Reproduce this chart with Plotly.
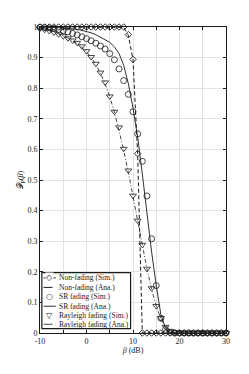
import plotly.graph_objects as go

# ---------------- data ----------------
snr_db = [-10, -9, -8, -7, -6, -5, -4, -3, -2, -1, 0, 1, 2, 3, 4, 5, 6, 7, 8, 9, 10,
          11, 12, 13, 14, 15, 16, 17, 18, 19, 20, 21, 22, 23, 24, 25, 26, 27, 28, 29, 30]

nonfading_sim = [1.0, 1.0, 1.0, 1.0, 1.0, 1.0, 1.0, 1.0, 1.0, 1.0, 1.0, 1.0, 1.0, 1.0, 1.0,
                 1.0, 1.0, 1.0, 1.0, 0.975, 0.894, 0.586, 0.0, 0.0, 0.0, 0.0, 0.0, 0.0, 0.0,
                 0.0, 0.0, 0.0, 0.0, 0.0, 0.0, 0.0, 0.0, 0.0, 0.0, 0.0, 0.0]
nonfading_ana = [1.0, 1.0, 1.0, 1.0, 1.0, 1.0, 1.0, 1.0, 1.0, 1.0, 1.0, 1.0, 1.0, 1.0, 1.0,
                 1.0, 1.0, 1.0, 0.999, 0.973, 0.893, 0.585, 0.0, 0.0, 0.0, 0.0, 0.0, 0.0, 0.0,
                 0.0, 0.0, 0.0, 0.0, 0.0, 0.0, 0.0, 0.0, 0.0, 0.0, 0.0, 0.0]

sr_sim = [0.999, 0.998, 0.997, 0.995, 0.992, 0.988, 0.984, 0.979, 0.974, 0.968, 0.962,
          0.955, 0.947, 0.938, 0.928, 0.913, 0.893, 0.863, 0.825, 0.780, 0.723, 0.651,
          0.561, 0.448, 0.308, 0.155, 0.048, 0.012, 0.002, 0.0, 0.0, 0.0, 0.0, 0.0, 0.0,
          0.0, 0.0, 0.0, 0.0, 0.0, 0.0]
sr_ana = [1.0, 1.0, 0.999, 0.999, 0.998, 0.997, 0.996, 0.994, 0.992, 0.989, 0.986,
          0.981, 0.975, 0.967, 0.960, 0.950, 0.935, 0.913, 0.875, 0.815, 0.735, 0.640,
          0.520, 0.385, 0.265, 0.155, 0.060, 0.015, 0.002, 0.0, 0.0, 0.0, 0.0, 0.0, 0.0,
          0.0, 0.0, 0.0, 0.0, 0.0, 0.0]

rayleigh_sim = [0.995, 0.991, 0.987, 0.982, 0.976, 0.970, 0.963, 0.956, 0.948, 0.937, 0.921,
                0.902, 0.880, 0.851, 0.819, 0.773, 0.723, 0.672, 0.602, 0.531, 0.449, 0.367,
                0.288, 0.210, 0.146, 0.088, 0.049, 0.020, 0.007, 0.002, 0.0, 0.0, 0.0, 0.0,
                0.0, 0.0, 0.0, 0.0, 0.0, 0.0, 0.0]
rayleigh_ana = [0.996, 0.993, 0.989, 0.984, 0.978, 0.971, 0.964, 0.956, 0.946, 0.934, 0.919,
                0.900, 0.877, 0.849, 0.814, 0.772, 0.722, 0.664, 0.598, 0.525, 0.446, 0.365,
                0.285, 0.210, 0.143, 0.088, 0.047, 0.020, 0.006, 0.001, 0.0, 0.0, 0.0, 0.0,
                0.0, 0.0, 0.0, 0.0, 0.0, 0.0, 0.0]

series_names = ["Non-fading (Sim.)", "Non-fading (Ana.)", "SR fading (Sim.)",
                "SR fading (Ana.)", "Rayleigh fading (Sim.)", "Rayleigh fading (Ana.)"]

x_tickvals = [-10, 0, 10, 20, 30]
x_ticktext = ["-10", "0", "10", "20", "30"]
y_tickvals = [0, 0.1, 0.2, 0.3, 0.4, 0.5, 0.6, 0.7, 0.8, 0.9, 1.0]
y_ticktext = ["0", "0.1", "0.2", "0.3", "0.4", "0.5", "0.6", "0.7", "0.8", "0.9", "1"]

# ---------------- styles ----------------
SERIF = "Liberation Serif"
INK = "#1a1a1a"
GRID = "#e2e2e2"
DASH = "4px,2.5px"
DASHDOT = "4px,2px,1px,2px"

fig = go.Figure()

# analytical curves
fig.add_trace(go.Scatter(x=snr_db, y=nonfading_ana, mode="lines", name=series_names[1],
                         line=dict(color=INK, width=1, dash=DASH), showlegend=False))
fig.add_trace(go.Scatter(x=snr_db, y=sr_ana, mode="lines", name=series_names[3],
                         line=dict(color=INK, width=0.9), showlegend=False))
fig.add_trace(go.Scatter(x=snr_db, y=rayleigh_ana, mode="lines", name=series_names[5],
                         line=dict(color=INK, width=0.8, dash=DASHDOT), showlegend=False))

# simulation markers
fig.add_trace(go.Scatter(x=snr_db, y=sr_sim, mode="markers", name=series_names[2],
                         marker=dict(symbol="circle-open", size=6, color=INK,
                                     line=dict(width=0.8, color=INK)),
                         cliponaxis=False, showlegend=False))
fig.add_trace(go.Scatter(x=snr_db, y=rayleigh_sim, mode="markers", name=series_names[4],
                         marker=dict(symbol="triangle-down-open", size=6, color=INK,
                                     line=dict(width=0.8, color=INK)),
                         cliponaxis=False, showlegend=False))
fig.add_trace(go.Scatter(x=snr_db, y=nonfading_sim, mode="markers", name=series_names[0],
                         marker=dict(symbol="diamond-open", size=5, color=INK,
                                     line=dict(width=0.9, color=INK)),
                         cliponaxis=False, showlegend=False))

# ---------------- manual legend (MATLAB style box) ----------------
shapes = []
annotations = []
lx0, lx1 = 0.010, 0.487
ly0, ly1 = 0.014, 0.197
shapes.append(dict(type="rect", xref="paper", yref="paper", x0=lx0, x1=lx1, y0=ly0, y1=ly1,
                   line=dict(color=INK, width=1.2), fillcolor="white", layer="above"))
row_y = [0.180, 0.149, 0.118, 0.0875, 0.0577, 0.0285]
sx0, sx1, sxc, tx = 0.019, 0.085, 0.052, 0.092
line_styles = [dict(width=0.9), dict(width=1, dash="dash"), None,
               dict(width=0.9), None, dict(width=0.8, dash="dashdot")]
glyphs = ["◇", None, "○", None, "▽", None]
for i, name in enumerate(series_names):
    if line_styles[i] is not None:
        ls = dict(color=INK)
        ls.update(line_styles[i])
        shapes.append(dict(type="line", xref="paper", yref="paper", x0=sx0, x1=sx1,
                           y0=row_y[i], y1=row_y[i], line=ls, layer="above"))
    if glyphs[i] is not None:
        annotations.append(dict(xref="paper", yref="paper", x=sxc, y=row_y[i], text=glyphs[i],
                                showarrow=False, xanchor="center", yanchor="middle",
                                font=dict(family="DejaVu Sans", size=8, color=INK),
                                bgcolor="white" if i == 0 else None,
                                borderpad=0))
    annotations.append(dict(xref="paper", yref="paper", x=tx, y=row_y[i], text=name,
                            showarrow=False, xanchor="left", yanchor="middle",
                            font=dict(family=SERIF, size=7.5, color=INK)))

axis_common = dict(showline=True, linecolor=INK, linewidth=1, mirror="ticks",
                   ticks="inside", ticklen=3, tickwidth=1, tickcolor=INK,
                   showgrid=True, gridcolor=GRID, gridwidth=1, zeroline=False,
                   tickfont=dict(family=SERIF, size=8, color=INK))

# page body has an 8px default margin, so the figure is shrunk by 8px to fit the window
fig.update_layout(
    width=241, height=366,
    margin=dict(l=25, r=23, t=19, b=41),
    paper_bgcolor="white", plot_bgcolor="white",
    showlegend=False,
    xaxis=dict(range=[-10, 30], tickvals=x_tickvals, ticktext=x_ticktext,
               minor=dict(tickvals=[-5, 5, 15, 25], ticks="inside", ticklen=3, tickwidth=1,
                          tickcolor=INK, showgrid=True, gridcolor=GRID, gridwidth=1),
               title=dict(text="<i>β</i> (dB)", font=dict(family=SERIF, size=8, color=INK),
                          standoff=2),
               **axis_common),
    yaxis=dict(range=[0, 1], tickvals=y_tickvals, ticktext=y_ticktext,
               title=dict(text="𝒫<sub>P</sub>(<i>β</i>)", font=dict(family=SERIF, size=8, color=INK),
                          standoff=2),
               **axis_common),
    shapes=shapes,
    annotations=annotations,
)

fig.write_html("out.html")
